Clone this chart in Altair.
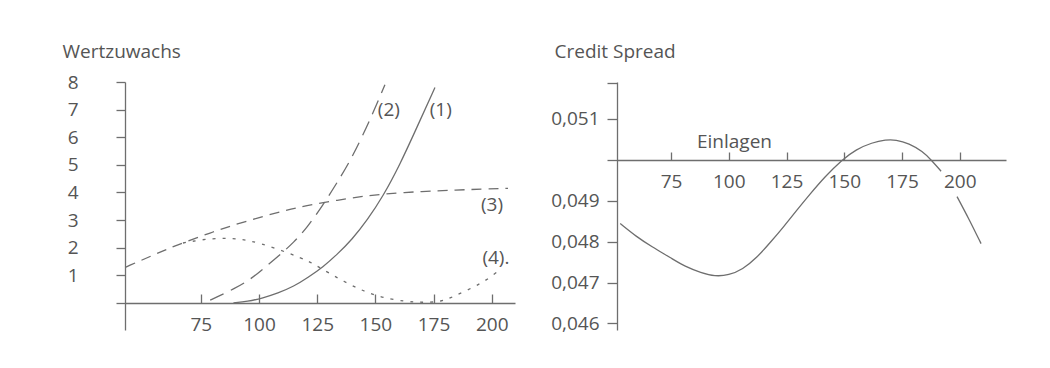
import altair as alt
import pandas as pd

# ---------------- left panel: Wertzuwachs ----------------
c1_x = [89, 95, 101.7, 108, 115, 121, 127.5, 133.5, 140, 146.5, 153.2, 160.5, 167.8, 175.6]
c1_y = [0, 0.05, 0.18, 0.35, 0.6, 0.92, 1.3, 1.75, 2.3, 3.0, 3.85, 5.0, 6.35, 7.8]

c2_x = [79, 82, 89, 96, 102, 109, 115, 120.6, 127.5, 133.5, 140.3, 148.9, 154.1]
c2_y = [0.1, 0.22, 0.5, 0.83, 1.25, 1.74, 2.2, 2.72, 3.55, 4.35, 5.3, 6.85, 7.9]

c3_x = [42.8, 55, 64.7, 79, 93, 112, 122, 139, 153, 170.4, 185, 196, 207]
c3_y = [1.3, 1.75, 2.1, 2.54, 2.93, 3.37, 3.55, 3.8, 3.95, 4.04, 4.09, 4.12, 4.15]

c4_x = [67.3, 75, 83.2, 92, 100.4, 113, 122, 126.2, 139, 150.6, 163.5, 170, 177.7, 183.3, 191.5, 197.9, 203.5]
c4_y = [2.17, 2.29, 2.35, 2.32, 2.17, 1.8, 1.49, 1.27, 0.65, 0.22, 0.04, 0.02, 0.03, 0.22, 0.54, 0.83, 1.2]

lab_text = ["(1)", "(2)", "(3)", "(4)."]
lab_x = [178.1, 155.8, 200.1, 201.8]
lab_y = [7.0, 7.0, 3.55, 1.63]

left_xticks = [75, 100, 125, 150, 175, 200]
left_yticks = [0, 1, 2, 3, 4, 5, 6, 7, 8]

# ---------------- right panel: Credit Spread ----------------
cs_x = [53, 60, 66.5, 75, 81, 88, 94, 100, 106, 112, 118, 124, 129.6, 135, 141.5,
        149, 155, 162, 168, 172.3, 178, 184, 187.5, 191.9]
cs_y = [0.04844, 0.04812, 0.04788, 0.04760, 0.04739, 0.04724, 0.04715, 0.04718,
        0.04732, 0.04760, 0.04798, 0.04838, 0.04878, 0.04915, 0.04958,
        0.05000, 0.05025, 0.05042, 0.05049, 0.05049, 0.05040, 0.05020, 0.05000, 0.04972]
cs2_x = [198.8, 204, 209.2]
cs2_y = [0.04910, 0.04855, 0.04795]

right_xticks = [75, 100, 125, 150, 175, 200]
right_yticks = [0.046, 0.047, 0.048, 0.049, 0.050, 0.051, 0.05188]

FONT = "Open Sans"
TXT = "#555555"
LINE = "#6e6e6e"


def frame(xs, ys, seg=0):
    return pd.DataFrame({"x": xs, "y": ys, "seg": [seg] * len(xs)})


# ---- left encodings ----
lx = alt.X(
    "x:Q",
    scale=alt.Scale(domain=[42.4, 210], nice=False, zero=False),
    axis=alt.Axis(
        orient="top", offset=-221, values=left_xticks, tickSize=9,
        labelPadding=-36, labelBaseline="alphabetic", labelFlush=False,
        title=None, grid=False,
    ),
)
ly = alt.Y(
    "y:Q",
    scale=alt.Scale(domain=[-0.98, 8], nice=False, zero=False),
    axis=alt.Axis(
        orient="left", values=left_yticks, tickSize=9, labelPadding=38,
        labelExpr="datum.value == 0 ? '' : datum.label", grid=False,
        title="Wertzuwachs", titleAngle=0, titleX=-63, titleY=-25,
        titleAlign="left", titleBaseline="alphabetic",
    ),
)


def lline(df, dash=None):
    kw = dict(color=LINE, strokeWidth=1.3, interpolate="basis")
    if dash:
        kw["strokeDash"] = dash
    return alt.Chart(df).mark_line(**kw).encode(x=lx, y=ly)


labels_df = pd.DataFrame({"x": lab_x, "y": lab_y, "t": lab_text})
left = alt.layer(
    lline(frame(c1_x, c1_y)),
    lline(frame(c2_x, c2_y), [15, 8]),
    lline(frame(c3_x, c3_y), [10, 7]),
    lline(frame(c4_x, c4_y), [3, 7]),
    alt.Chart(labels_df).mark_text(font=FONT, fontSize=19, color=TXT, baseline="middle", align="center").encode(
        x=lx, y=ly, text="t:N"
    ),
).properties(width=390, height=248)

# ---- right encodings ----
rx = alt.X(
    "x:Q",
    scale=alt.Scale(domain=[51.6, 220], nice=False, zero=False),
    axis=alt.Axis(
        orient="top", offset=-78, values=right_xticks, tickSize=8,
        labelPadding=-35, labelBaseline="alphabetic", labelFlush=False, grid=False,
        title="Einlagen", titleX=117, titleY=-13, titleAlign="center",
        titleBaseline="alphabetic", titleAngle=0,
    ),
)
ry = alt.Y(
    "y:Q",
    scale=alt.Scale(domain=[0.04584, 0.05190], nice=False, zero=False),
    axis=alt.Axis(
        orient="left", values=right_yticks, tickSize=10, labelPadding=8, grid=False,
        labelExpr="(datum.value > 0.0495 && datum.value < 0.0505) || datum.value > 0.0515 ? '' : replace(format(datum.value, '.3f'), '.', ',')",
        title="Credit Spread", titleAngle=0, titleX=-63, titleY=-25,
        titleAlign="left", titleBaseline="alphabetic",
    ),
)

right_df = pd.concat([frame(cs_x, cs_y, 0), frame(cs2_x, cs2_y, 1)], ignore_index=True)
right = alt.Chart(right_df).mark_line(color=LINE, strokeWidth=1.3, interpolate="basis").encode(
    x=rx, y=ry, detail="seg:N"
).properties(width=389, height=248)

chart = alt.hconcat(left, right, spacing=35).properties(
    padding={"left": 54, "top": 34, "right": 5, "bottom": 5},
    background="white",
).configure_view(stroke=None).configure_axis(
    labelFont=FONT, labelFontSize=19, labelColor=TXT,
    titleFont=FONT, titleFontSize=19, titleColor=TXT, titleFontWeight="normal",
    domainColor=LINE, domainWidth=1.3, tickColor=LINE, tickWidth=1.3,
)

chart.save("out.html", embed_options={"renderer": "svg", "actions": False})
